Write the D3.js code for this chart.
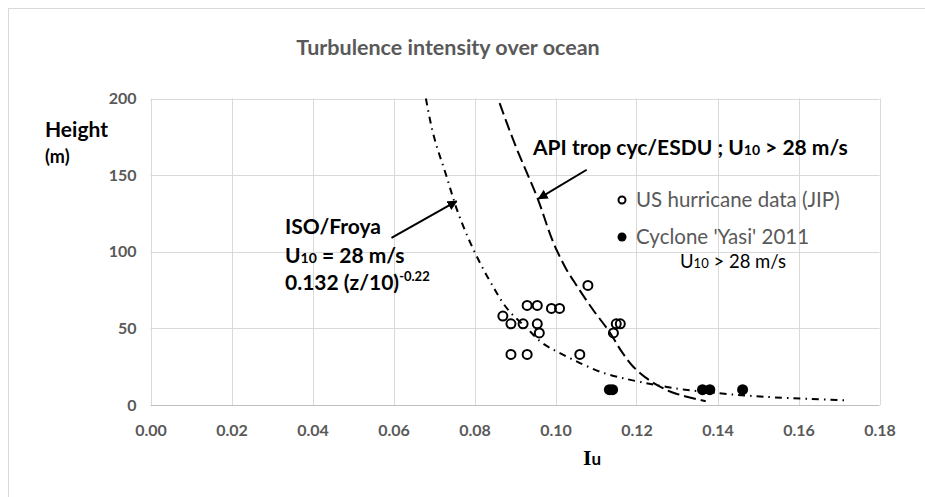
<!DOCTYPE html>
<html>
<head>
<meta charset="utf-8">
<script src="https://cdn.jsdelivr.net/npm/d3@7.9.0/dist/d3.min.js"></script>
<style>
  body { margin: 0; background: #fff; }
  svg { display: block; font-family: Lato, "Open Sans", sans-serif; }
</style>
</head>
<body>
<svg id="chart" width="925" height="497"></svg>
<script>
// US hurricane data (JIP) - open circles
const usIu     = [0.108, 0.093, 0.0955, 0.099, 0.101, 0.087, 0.089, 0.092, 0.0955, 0.096, 0.1143, 0.115, 0.116, 0.089, 0.093, 0.106];
const usHeight = [78, 65, 65, 63, 63, 58, 53, 53, 53, 47, 47, 53, 53, 33, 33, 33];

// Cyclone 'Yasi' 2011 - filled circles
const yasiIu     = [0.1133, 0.1141, 0.1363, 0.1381, 0.1462];
const yasiHeight = [10, 10, 10, 10, 10];

// ISO/Froya curve (dash-dot)
const isoHeight = [200, 175, 150, 125, 100, 80, 60, 50, 40, 30, 25, 20, 15, 12, 10, 8, 6, 5, 4, 3];
const isoIu     = [0.068, 0.070, 0.073, 0.076, 0.080, 0.084, 0.089, 0.093, 0.097, 0.104, 0.108, 0.113, 0.121, 0.127, 0.132, 0.139, 0.148, 0.154, 0.162, 0.172];

// API trop cyc/ESDU curve (dashed)
const apiHeight = [197, 170, 136, 101, 88, 78, 62, 47, 35, 25, 18, 12, 8, 5.4, 2.5];
const apiIu     = [0.0862, 0.0900, 0.0954, 0.1003, 0.1028, 0.1052, 0.1093, 0.1135, 0.1163, 0.1192, 0.1222, 0.1258, 0.1291, 0.1324, 0.1371];

const xTicks = [0, 0.02, 0.04, 0.06, 0.08, 0.10, 0.12, 0.14, 0.16, 0.18];
const yTicks = [0, 50, 100, 150, 200];

const svg = d3.select('#chart');

// outer chart frame
svg.append('rect')
  .attr('x', 8.5).attr('y', 8.5)
  .attr('width', 1000).attr('height', 1000)
  .attr('fill', 'none').attr('stroke', '#d9d9d9');

let x = d3.scaleLinear().domain([0, 0.18]).range([150.5, 879.5]);
let y = d3.scaleLinear().domain([0, 200]).range([405, 98.5]);

// grid
svg.append('g').selectAll('line').data(xTicks).join('line')
  .attr('x1', d => Math.round(x(d)) + 0.5).attr('x2', d => Math.round(x(d)) + 0.5)
  .attr('y1', y(0)).attr('y2', y(200))
  .attr('stroke', '#d9d9d9');
svg.append('g').selectAll('line').data(yTicks).join('line')
  .attr('x1', x(0)).attr('x2', x(0.18))
  .attr('y1', d => Math.round(y(d)) + 0.5).attr('y2', d => Math.round(y(d)) + 0.5)
  .attr('stroke', d => d === 0 ? '#bfbfbf' : '#d9d9d9');

// axes (labels only)
let xAxis = d3.axisBottom(x).tickValues(xTicks).tickFormat(d3.format('.2f')).tickSize(0).tickPadding(20);
let yAxis = d3.axisLeft(y).tickValues(yTicks).tickSize(0).tickPadding(14);
svg.append('g').attr('transform', `translate(0,${y(0)})`).call(xAxis)
  .call(g => g.select('.domain').remove())
  .selectAll('text').attr('font-size', 16).attr('font-weight', 'bold')
  .attr('fill', '#595959').attr('font-family', 'Lato');
svg.append('g').attr('transform', `translate(${x(0)},0)`).call(yAxis)
  .call(g => g.select('.domain').remove())
  .selectAll('text').attr('font-size', 16).attr('font-weight', 'bold')
  .attr('fill', '#595959').attr('font-family', 'Lato');

// curves
let line = d3.line().x(d => x(d[0])).y(d => y(d[1])).curve(d3.curveMonotoneY);
svg.append('path')
  .attr('d', line(isoIu.map((v, i) => [v, isoHeight[i]])))
  .attr('fill', 'none').attr('stroke', '#000').attr('stroke-width', 2)
  .attr('stroke-dasharray', '7,5,1.5,5');
svg.append('path')
  .attr('d', line(apiIu.map((v, i) => [v, apiHeight[i]])))
  .attr('fill', 'none').attr('stroke', '#000').attr('stroke-width', 2)
  .attr('stroke-dasharray', '12,5');

// points
svg.append('g').selectAll('circle').data(usIu).join('circle')
  .attr('cx', d => x(d)).attr('cy', (d, i) => y(usHeight[i])).attr('r', 4.5)
  .attr('fill', 'none').attr('stroke', '#000').attr('stroke-width', 2);
svg.append('g').selectAll('circle').data(yasiIu).join('circle')
  .attr('cx', d => x(d)).attr('cy', (d, i) => y(yasiHeight[i])).attr('r', 5.5)
  .attr('fill', '#000');

// arrows
svg.append('defs').append('marker')
  .attr('id', 'arrow').attr('viewBox', '0 0 10 10').attr('refX', 9).attr('refY', 5)
  .attr('markerWidth', 5).attr('markerHeight', 5).attr('orient', 'auto')
  .append('path').attr('d', 'M0,0 L10,5 L0,10 z').attr('fill', '#000');
svg.append('line')
  .attr('x1', x(0.0595)).attr('y1', y(109)).attr('x2', x(0.0756)).attr('y2', y(133))
  .attr('stroke', '#000').attr('stroke-width', 2).attr('marker-end', 'url(#arrow)');
svg.append('line')
  .attr('x1', x(0.1077)).attr('y1', y(153.5)).attr('x2', x(0.0958)).attr('y2', y(134.6))
  .attr('stroke', '#000').attr('stroke-width', 2).attr('marker-end', 'url(#arrow)');

// title
svg.append('text').attr('x', 448).attr('y', 55).attr('text-anchor', 'middle')
  .attr('font-size', 21.5).attr('font-weight', 'bold').attr('fill', '#595959')
  .text('Turbulence intensity over ocean');

// y label
svg.append('text').attr('x', 45).attr('y', 137).attr('font-size', 21).attr('font-weight', 'bold')
  .text('Height');
svg.append('text').attr('x', 45).attr('y', 163).attr('font-size', 18).attr('font-weight', 'bold')
  .text('(m)');

// x label
let xl = svg.append('text').attr('x', 583).attr('y', 465).attr('font-weight', 'bold');
xl.append('tspan').attr('font-family', 'Liberation Serif').attr('font-size', 22).text('I');
xl.append('tspan').attr('font-size', 17).text('u');

// ISO annotation
let iso = svg.append('g').attr('font-size', 21).attr('font-weight', 'bold').attr('fill', '#000');
iso.append('text').attr('x', 285).attr('y', 234).text('ISO/Froya');
let u1 = iso.append('text').attr('x', 285).attr('y', 263);
u1.append('tspan').text('U');
u1.append('tspan').attr('font-size', 14).text('10');
u1.append('tspan').text(' = 28 m/s');
let f1 = iso.append('text').attr('x', 285).attr('y', 290);
f1.append('tspan').text('0.132 (z/10)');
f1.append('tspan').attr('font-size', 13).attr('dy', -9).text('-0.22');

// API annotation
let api = svg.append('text').attr('x', 533).attr('y', 155)
  .attr('font-size', 21).attr('font-weight', 'bold');
api.append('tspan').text('API trop cyc/ESDU ; U');
api.append('tspan').attr('font-size', 14).text('10');
api.append('tspan').text(' > 28 m/s');

// legend
svg.append('circle').attr('cx', 622).attr('cy', 200).attr('r', 3.5)
  .attr('fill', 'none').attr('stroke', '#000').attr('stroke-width', 2);
svg.append('text').attr('x', 636).attr('y', 207).attr('font-size', 20.5).attr('fill', '#595959')
  .text('US hurricane data (JIP)');
svg.append('circle').attr('cx', 622).attr('cy', 237).attr('r', 4.5).attr('fill', '#000');
svg.append('text').attr('x', 636).attr('y', 244).attr('font-size', 20.5).attr('fill', '#595959')
  .text("Cyclone 'Yasi' 2011");
let u2 = svg.append('text').attr('x', 680).attr('y', 268).attr('font-size', 18.5).attr('fill', '#000');
u2.append('tspan').text('U');
u2.append('tspan').attr('font-size', 13).text('10');
u2.append('tspan').text(' > 28 m/s');
</script>
</body>
</html>
